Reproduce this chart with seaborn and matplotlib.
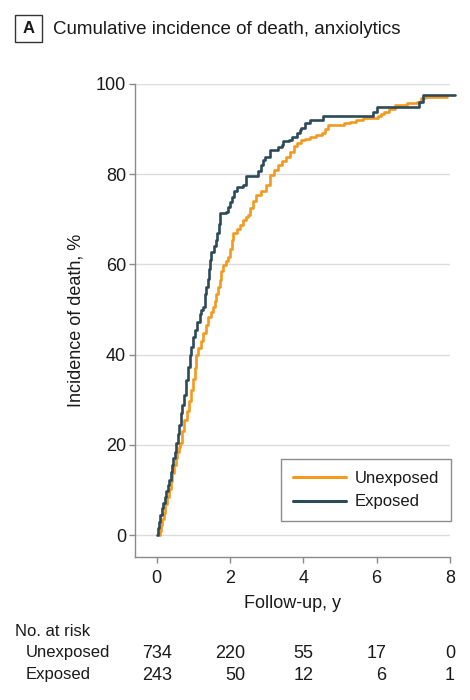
import numpy as np
import pandas as pd
import matplotlib
matplotlib.use("Agg")
import matplotlib.pyplot as plt
import matplotlib.transforms as mtransforms
from matplotlib.patches import Rectangle
import seaborn as sns

# cumulative incidence (years, %)
exposed_time = [0.00, 0.03, 0.06, 0.10, 0.14, 0.18, 0.22, 0.26, 0.30, 0.34, 0.38, 0.42,
                0.46, 0.50, 0.54, 0.58, 0.62, 0.67, 0.70, 0.75, 0.81, 0.86, 0.90, 0.95,
                1.00, 1.04, 1.10, 1.17, 1.22, 1.27, 1.31, 1.36, 1.40, 1.43, 1.46, 1.49,
                1.56, 1.63, 1.66, 1.69, 1.72, 1.90, 1.95, 1.99, 2.05, 2.10, 2.18, 2.36,
                2.45, 2.72, 2.76, 2.86, 2.90, 2.95, 3.09, 3.20, 3.30, 3.41, 3.45, 3.60,
                3.68, 3.82, 3.90, 3.95, 4.04, 4.18, 4.54, 5.87, 5.91, 6.00, 7.14, 7.16,
                7.28, 8.14]
exposed_inc = [0.0, 1.5, 3.0, 4.5, 6.0, 7.2, 8.5, 9.8, 11.0, 12.3, 14.0, 15.5,
               17.0, 18.5, 20.3, 22.5, 24.5, 27.0, 28.8, 31.0, 34.3, 37.3, 39.9, 41.8,
               43.8, 45.4, 47.3, 49.1, 49.8, 50.6, 53.5, 55.0, 56.8, 59.0, 61.0, 62.8,
               64.0, 65.4, 67.0, 69.0, 71.3, 71.7, 72.8, 73.9, 75.0, 76.2, 77.2, 77.5,
               79.5, 79.5, 80.8, 82.0, 83.1, 83.9, 85.4, 85.4, 86.0, 86.5, 87.4, 87.6,
               88.3, 89.1, 89.7, 90.2, 91.3, 92.0, 92.8, 92.8, 93.9, 95.0, 95.0, 96.1,
               97.6, 97.6]

unexposed_time = [0.06, 0.09, 0.12, 0.16, 0.20, 0.24, 0.28, 0.33, 0.38, 0.43, 0.48, 0.52,
                  0.56, 0.60, 0.63, 0.70, 0.76, 0.82, 0.88, 0.95, 1.00, 1.04, 1.08, 1.13,
                  1.20, 1.27, 1.34, 1.40, 1.47, 1.54, 1.58, 1.63, 1.68, 1.72, 1.77, 1.82,
                  1.88, 1.95, 2.00, 2.05, 2.09, 2.18, 2.27, 2.36, 2.44, 2.50, 2.56, 2.64,
                  2.72, 2.85, 2.99, 3.09, 3.20, 3.31, 3.42, 3.54, 3.65, 3.75, 3.82, 3.95,
                  4.05, 4.18, 4.35, 4.50, 4.60, 4.68, 4.92, 5.10, 5.27, 5.45, 5.64, 6.05,
                  6.12, 6.19, 6.35, 6.50, 6.82, 7.10, 7.20, 7.32, 7.92]
unexposed_inc = [0.0, 1.0, 2.2, 3.5, 5.0, 6.8, 8.5, 10.3, 12.0, 13.8, 15.5, 17.0,
                 18.5, 19.5, 20.3, 23.0, 25.5, 27.5, 29.8, 32.1, 34.5, 37.0, 39.9, 41.5,
                 43.0, 44.7, 46.5, 48.4, 49.5, 50.6, 52.0, 53.5, 55.0, 56.5, 58.5, 59.8,
                 60.8, 61.7, 63.5, 65.5, 66.9, 67.8, 68.7, 69.8, 70.5, 71.0, 72.5, 74.0,
                 75.4, 76.3, 77.6, 79.8, 81.0, 82.0, 83.0, 83.9, 85.0, 86.2, 86.9, 87.5,
                 87.9, 88.3, 88.8, 89.1, 90.0, 90.9, 90.9, 91.3, 91.6, 92.0, 92.4, 92.8,
                 93.4, 93.9, 94.5, 95.3, 95.7, 96.1, 96.8, 97.2, 97.2]

groups = ["Unexposed", "Exposed"]
colors = ["#F39A1E", "#2D4A59"]

risk_times = [0, 2, 4, 6, 8]
risk_unexposed = [734, 220, 55, 17, 0]
risk_exposed = [243, 50, 12, 6, 1]

df = pd.concat([
    pd.DataFrame({"time": unexposed_time, "incidence": unexposed_inc, "group": "Unexposed"}),
    pd.DataFrame({"time": exposed_time, "incidence": exposed_inc, "group": "Exposed"}),
], ignore_index=True)

sns.set_theme(style="white")
plt.rcParams["font.family"] = ["Liberation Sans", "DejaVu Sans"]
text_color = "#1a1a1a"
axis_color = "#8a8a8a"

fig = plt.figure(figsize=(4.7, 7.0), dpi=100)
ax = fig.add_axes([0.2872, 0.2047, 0.670, 0.6753])

for yv in [0, 20, 40, 60, 80, 100]:
    ax.axhline(yv, color="#dcdcdc", lw=1.0, zorder=0)

sns.lineplot(data=df, x="time", y="incidence", hue="group", hue_order=groups,
             palette=colors, drawstyle="steps-post", estimator=None, sort=False,
             linewidth=1.9, clip_on=False, ax=ax)

ax.set_xlim(-0.59, 8)
ax.set_ylim(-4.8, 100)
ax.set_xticks(risk_times)
ax.set_yticks([0, 20, 40, 60, 80, 100])
ax.tick_params(axis="both", which="both", direction="out", length=4.5, width=1,
               color=axis_color, labelsize=13, labelcolor=text_color)
ax.tick_params(axis="x", bottom=True, pad=5)
ax.tick_params(axis="y", left=True, pad=2)
for side in ["top", "right"]:
    ax.spines[side].set_visible(False)
for side in ["left", "bottom"]:
    ax.spines[side].set_color(axis_color)
    ax.spines[side].set_linewidth(1.0)

ax.set_xlabel("Follow-up, y", fontsize=13, color=text_color)
ax.set_ylabel("Incidence of death, %", fontsize=13, color=text_color)
ax.xaxis.set_label_coords(0.5, -0.08)
ax.yaxis.set_label_coords(-0.16, 0.5)

old = ax.get_legend()
handles = old.legend_handles
labels = [t.get_text() for t in old.get_texts()]
leg = ax.legend(handles, labels, loc="lower right", bbox_to_anchor=(1.003, 0.0755),
                frameon=True, fancybox=False, fontsize=12, handlelength=3.2,
                handletextpad=0.5, borderpad=0.7, labelspacing=0.5,
                borderaxespad=0)
leg.get_frame().set_edgecolor("#707070")
leg.get_frame().set_linewidth(1.0)
for h in leg.legend_handles:
    h.set_linewidth(2.2)
for t in leg.get_texts():
    t.set_color(text_color)

# panel letter and title
fig.patches.append(Rectangle((15 / 470, 1 - 42 / 700), 27 / 470, 27 / 700,
                             transform=fig.transFigure, fill=False,
                             edgecolor="#333333", linewidth=1.0))
fig.text(28.5 / 470, 1 - 28.5 / 700, "A", ha="center", va="center",
         fontsize=12, fontweight="bold", color=text_color)
fig.text(53 / 470, 1 - 29 / 700, "Cumulative incidence of death, anxiolytics",
         ha="left", va="center", fontsize=13.5, color=text_color)

# number at risk table
fig.text(15 / 470, 1 - 632 / 700, "No. at risk", ha="left", va="center",
         fontsize=12, color=text_color)
fig.text(26 / 470, 1 - 653 / 700, "Unexposed", ha="left", va="center",
         fontsize=12, color=text_color)
fig.text(26 / 470, 1 - 675 / 700, "Exposed", ha="left", va="center",
         fontsize=12, color=text_color)

trans = mtransforms.blended_transform_factory(ax.transData, fig.transFigure)
for t, nu, ne in zip(risk_times, risk_unexposed, risk_exposed):
    width = max(len(str(nu)), len(str(ne)))
    xr = t + width * 0.137
    ax.text(xr, 1 - 653 / 700, str(nu), transform=trans, ha="right", va="center",
            fontsize=13, color=text_color, clip_on=False)
    ax.text(xr, 1 - 675 / 700, str(ne), transform=trans, ha="right", va="center",
            fontsize=13, color=text_color, clip_on=False)

fig.savefig("out.png", dpi=100)
